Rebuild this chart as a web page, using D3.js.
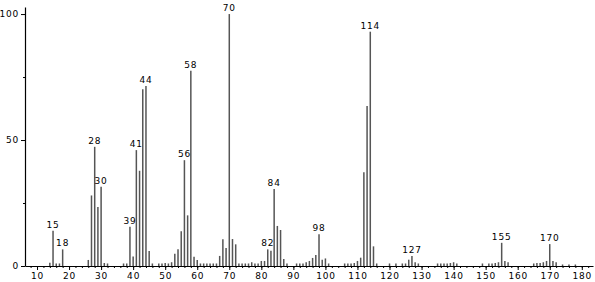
<html>
<head>
  <script src="https://d3js.org/d3.v7.min.js"></script>
  <style>
    body { margin: 0; background: #fff; }
    text { font-family: "DejaVu Sans", sans-serif; }
  </style>
</head>
<body>
  <div id="chart"></div>
  <script>

    // m/z values and relative abundances
    var mz = [14, 15, 16, 17, 18, 26, 27, 28, 29, 30, 31, 32, 37, 38, 39, 40, 41, 42, 43, 44,
              45, 46, 48, 49, 50, 51, 52, 53, 54, 55, 56, 57, 58, 59, 60, 61, 62, 63, 64, 65,
              66, 67, 68, 69, 70, 71, 72, 73, 74, 75, 76, 77, 78, 79, 80, 81, 82, 83, 84, 85,
              86, 87, 88, 91, 92, 93, 94, 95, 96, 97, 98, 99, 100, 101, 106, 107, 108, 109, 110, 111,
              112, 113, 114, 115, 116, 120, 122, 124, 125, 126, 127, 128, 129, 135, 136, 137, 138, 139, 140, 141,
              149, 151, 152, 153, 154, 155, 156, 157, 165, 166, 167, 168, 169, 170, 171, 172, 174, 176, 178];
    var abundance = [1.3, 14, 1, 1, 6.6, 2.4, 28, 47.3, 23.4, 31.5, 1.2, 1, 1, 1, 15.6, 3.8, 46, 37.8, 70.2, 71.4,
                     6, 1, 1, 1, 1.2, 1, 1.5, 4.9, 6.6, 13.8, 42, 20.1, 77.5, 3.7, 2.4, 1, 1, 1, 1, 1,
                     1, 4, 10.6, 7.1, 100, 10.7, 8.6, 1, 1, 1, 1, 1.5, 1, 1, 2, 2, 6.6, 6.1, 30.6, 15.9,
                     14.3, 2.8, 1, 1, 1, 1, 1.5, 2, 3.2, 4.4, 12.6, 2.5, 3, 1, 1, 1, 1, 1.2, 2, 3.3,
                     37.2, 63.5, 93, 7.8, 1, 1, 1, 1, 1, 2.5, 4, 1.5, 1, 1, 1, 1, 1, 1.2, 1.5, 1,
                     1, 1, 1, 1.2, 1.5, 9.2, 2, 1.5, 1, 1.2, 1.2, 1.5, 2, 8.7, 2, 1.5, 0.6, 0.6, 0.6];

    // peaks that carry their m/z as a label
    var labelled = [15, 18, 28, 30, 39, 41, 44, 56, 58, 70, 82, 84, 98, 114, 127, 155, 170];

    var xTicks = d3.range(10, 181, 10);
    var yTicks = [0, 50, 100];

    var width = 595, height = 282;

    var x = d3.scaleLinear().domain([6.25, 183.5]).range([25, 593]);
    var y = d3.scaleLinear().domain([0, 102.8]).range([266, 7]);

    var svg = d3.select("#chart").append("svg")
      .attr("width", width)
      .attr("height", height);

    var data = mz.map((m, i) => ({mz: m, v: abundance[i]}));

    // peaks
    svg.selectAll("line.peak")
      .data(data)
      .join("line")
        .attr("class", "peak")
        .attr("x1", d => x(d.mz))
        .attr("x2", d => x(d.mz))
        .attr("y1", y(0))
        .attr("y2", d => y(d.v))
        .attr("stroke", "#555")
        .attr("stroke-width", 1.5);

    // peak labels
    svg.selectAll("text.lab")
      .data(data.filter(d => labelled.includes(d.mz)))
      .join("text")
        .attr("class", "lab")
        .attr("x", d => x(d.mz))
        .attr("y", d => y(d.v) - 3)
        .attr("text-anchor", "middle")
        .attr("font-size", 9)
        .attr("letter-spacing", 0.8)
        .attr("fill", "#000")
        .text(d => d.mz);

    // x axis: minor ticks every 2, labelled ticks every 10
    var minorX = svg.append("g")
      .attr("transform", `translate(0,${y(0)})`)
      .call(d3.axisBottom(x).tickValues(d3.range(8, 184, 2)).tickSize(2).tickFormat(""));
    minorX.select(".domain").remove();

    var gx = svg.append("g")
      .attr("transform", `translate(0,${y(0)})`)
      .call(d3.axisBottom(x).tickValues(xTicks).tickSize(4).tickSizeOuter(0).tickPadding(3));
    gx.selectAll("text").attr("font-size", 9).attr("letter-spacing", 0.8).attr("font-family", null);

    // y axis: minor ticks at 25 and 75
    var minorY = svg.append("g")
      .attr("transform", `translate(${x.range()[0]},0)`)
      .call(d3.axisLeft(y).tickValues([25, 75]).tickSize(2).tickFormat(""));
    minorY.select(".domain").remove();

    var gy = svg.append("g")
      .attr("transform", `translate(${x.range()[0]},0)`)
      .call(d3.axisLeft(y).tickValues(yTicks).tickSize(4).tickSizeOuter(0).tickPadding(2));
    gy.selectAll("text").attr("font-size", 9).attr("letter-spacing", 0.8).attr("font-family", null);

    svg.selectAll(".domain").attr("stroke-width", 1.2);

  </script>
</body>
</html>
